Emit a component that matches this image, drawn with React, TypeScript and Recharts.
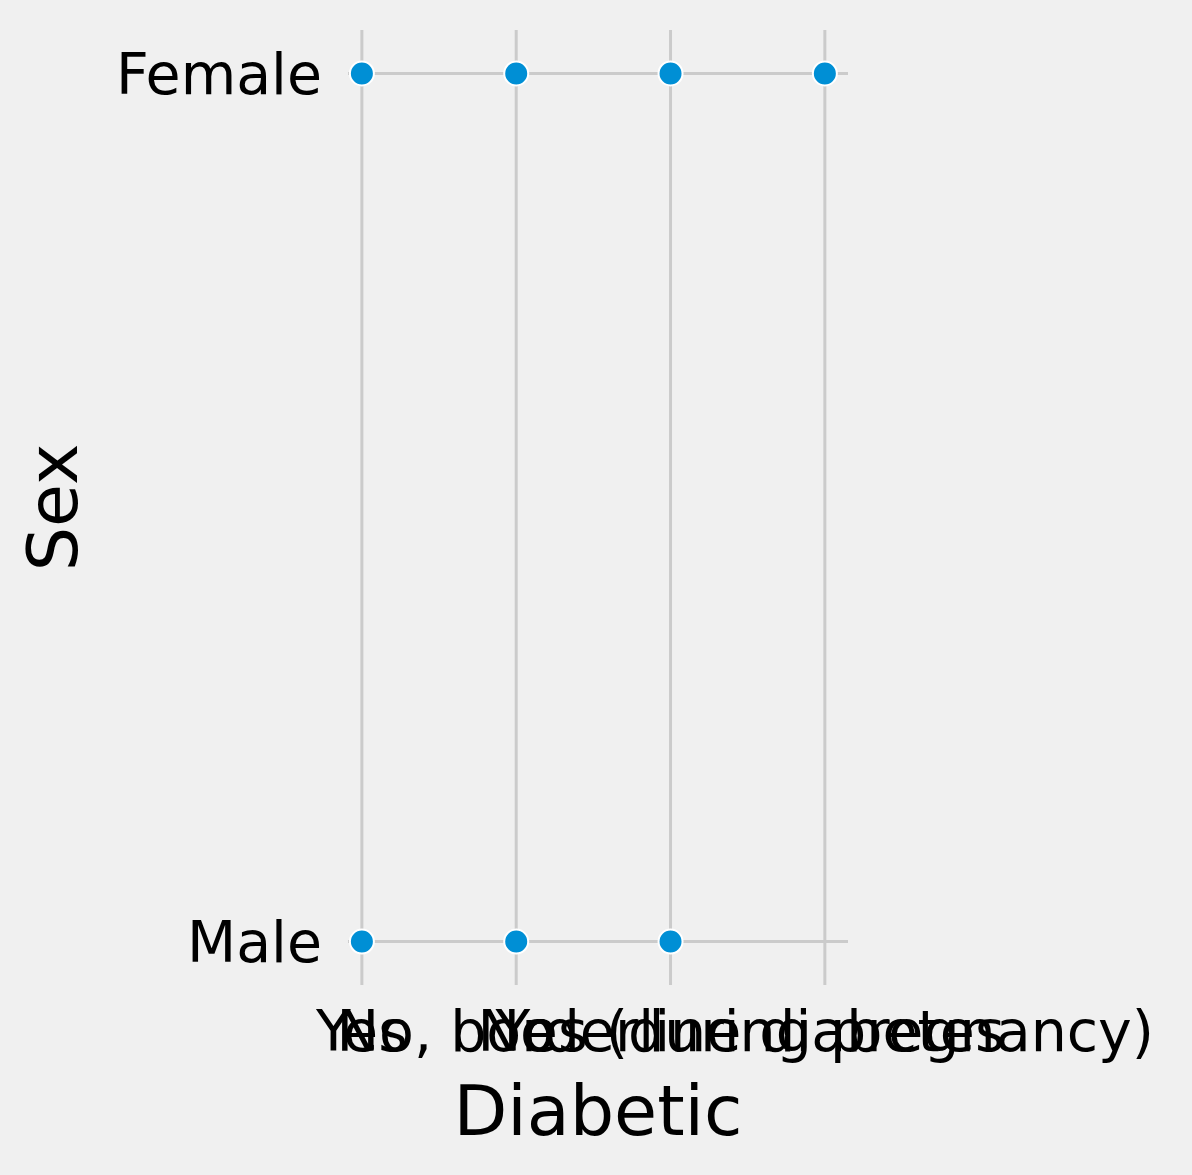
import { ScatterChart, Scatter, XAxis, YAxis, ReferenceLine, Label } from "recharts";

const diabeticCategories = ["Yes", "No", "No, borderline diabetes", "Yes (during pregnancy)"];
const sexCategories = ["Male", "Female"];
const femalePoints = ["Yes", "No", "No, borderline diabetes", "Yes (during pregnancy)"];
const malePoints = ["Yes", "No", "No, borderline diabetes"];
const xTicks = [0, 1, 2, 3];
const yTicks = [0, 1];

const data = [
    ...femalePoints.map((d) => ({ x: diabeticCategories.indexOf(d), y: sexCategories.indexOf("Female") })),
    ...malePoints.map((d) => ({ x: diabeticCategories.indexOf(d), y: sexCategories.indexOf("Male") })),
];

const font = "DejaVu Sans";

export default function App() {
    return (
        <div style={{ position: "absolute", top: 0, left: 0, width: 1192, height: 1175, background: "#f0f0f0" }}>
            <ScatterChart width={1192} height={1175} margin={{ top: 30, right: 344, left: 0, bottom: 0 }}>
                <XAxis type="number" dataKey="x" domain={[-0.09, 3.15]} ticks={xTicks}
                    tickFormatter={(v) => diabeticCategories[v]} interval={0} height={190}
                    axisLine={false} tickLine={false} tickMargin={20}
                    tick={{ fontSize: 57, fill: "#000", fontFamily: font }}>
                    <Label value="Diabetic" position="insideBottom" offset={40} style={{ fontSize: 70, fill: "#000", fontFamily: font }} />
                </XAxis>
                <YAxis type="number" dataKey="y" domain={[-0.05, 1.05]} ticks={yTicks}
                    tickFormatter={(v) => sexCategories[v]} width={348}
                    axisLine={false} tickLine={false} tickMargin={20}
                    tick={{ fontSize: 57, fill: "#000", fontFamily: font }}>
                    <Label value="Sex" angle={-90} position="insideLeft" offset={52} style={{ fontSize: 70, fill: "#000", fontFamily: font, textAnchor: "middle" }} />
                </YAxis>
                {xTicks.map((t) => <ReferenceLine key={"x" + t} x={t} stroke="#cbcbcb" strokeWidth={3} />)}
                {yTicks.map((t) => <ReferenceLine key={"y" + t} y={t} stroke="#cbcbcb" strokeWidth={3} />)}
                <Scatter data={data} fill="#008fd5"
                    shape={(p: any) => <circle cx={p.cx} cy={p.cy} r={12} fill="#008fd5" stroke="#fff" strokeWidth={2} />}
                    isAnimationActive={false} />
            </ScatterChart>
        </div>
    );
}
